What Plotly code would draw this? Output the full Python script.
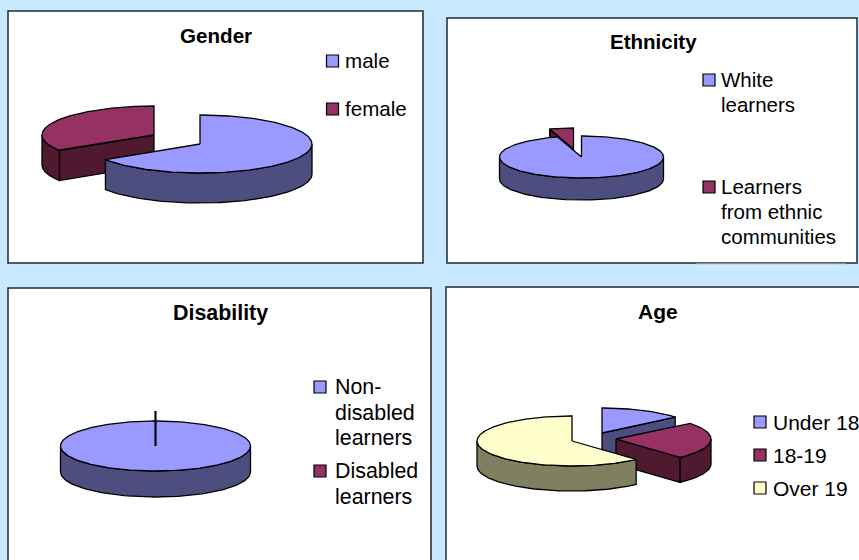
import numpy as np
import plotly.graph_objects as go

# Survey breakdowns shown as four tilted, exploded pies
gender_labels = ["male", "female"]
gender_values = [66, 34]

ethnicity_labels = ["White<br>learners", "Learners<br>from ethnic<br>communities"]
ethnicity_values = [95.3, 4.7]

disability_labels = ["Non-<br>disabled<br>learners", "Disabled<br>learners"]
disability_values = [100, 0]

age_labels = ["Under 18", "18-19", "Over 19"]
age_values = [14, 24.2, 61.8]

# Series colours: (top face, side face)
BLUE = ("#9999FF", "#4D4D80")
PLUM = ("#953163", "#4F1A2F")
CREAM = ("#FFFFCC", "#808060")

BACKGROUND = "#C8E9FF"
BORDER = "#1E2A30"
FONT = "Liberation Sans, Arial, sans-serif"

panels = [
    dict(
        title="Gender", title_pos=(216, 35), box=(8, 11, 423, 263), font_size=20.6,
        labels=gender_labels, values=gender_values, colors=[BLUE, PLUM],
        center=(200, 144), rx=112, ry=29, depth=30,
        offsets=[(0, 0), (-46, -9)],
        legend_x=332.5, text_x=345, legend_y=[61, 109], text_dy=-1, line_step=25,
    ),
    dict(
        title="Ethnicity", title_pos=(653, 41), box=(447, 18, 857, 263), font_size=20.5,
        labels=ethnicity_labels, values=ethnicity_values, colors=[BLUE, PLUM],
        center=(581.5, 157), rx=82, ry=21, depth=22,
        offsets=[(0, 0), (-8, -8)],
        legend_x=709, text_x=721, legend_y=[80, 187], text_dy=-1, line_step=25,
    ),
    dict(
        title="Disability", title_pos=(220.5, 313), box=(8, 288, 431, 575), font_size=21.4,
        labels=disability_labels, values=disability_values, colors=[BLUE, PLUM],
        center=(155.5, 446), rx=95, ry=25, depth=26,
        offsets=[(0, 0), (0, -10)],
        legend_x=320, text_x=334.5, legend_y=[387, 471], text_dy=0, line_step=25.5,
    ),
    dict(
        title="Age", title_pos=(658, 311), box=(446, 287, 875, 575), font_size=21,
        labels=age_labels, values=age_values, colors=[BLUE, PLUM, CREAM],
        center=(572, 441), rx=95, ry=25, depth=25,
        offsets=[(30, -8), (44, -2), (0, 0)],
        legend_x=760, text_x=773, legend_y=[422, 455, 488], text_dy=0, line_step=25,
    ),
]

fig = go.Figure()


def add_face(xs, ys, fill):
    fig.add_trace(go.Scatter(
        x=list(xs), y=list(ys), mode="lines", fill="toself", fillcolor=fill,
        line=dict(color="#000000", width=1.3), hoverinfo="skip", showlegend=False,
    ))


def rim_point(cx, cy, rx, ry, angle):
    rad = np.radians(angle)
    return cx + rx * np.sin(rad), cy - ry * np.cos(rad)


def draw_slice(cx, cy, rx, ry, depth, start, end, colors):
    top, side = colors

    # A cut face is visible when its outward normal points at the viewer
    for angle, normal in ((start, start - 90), (end, end + 90)):
        if np.cos(np.radians(normal)) < -1e-9:
            ex, ey = rim_point(cx, cy, rx, ry, angle)
            add_face([cx, ex, ex, cx, cx],
                     [cy, ey, ey + depth, cy + depth, cy], side)

    # Outer wall: only the front half of the rim can be seen
    lo, hi = max(start, 90), min(end, 270)
    if hi > lo:
        angles = np.linspace(lo, hi, 90)
        wx, wy = rim_point(cx, cy, rx, ry, angles)
        add_face(np.r_[wx, wx[::-1], wx[0]],
                 np.r_[wy, wy[::-1] + depth, wy[0]], side)

    angles = np.linspace(start, end, max(2, int(end - start) + 1))
    ax, ay = rim_point(cx, cy, rx, ry, angles)
    add_face(np.r_[cx, ax, cx], np.r_[cy, ay, cy], top)


shapes = []
annotations = []

for panel in panels:
    x0, y0, x1, y1 = panel["box"]
    size = panel["font_size"]
    cx, cy = panel["center"]
    shapes.append(dict(type="rect", xref="x", yref="y", x0=x0, y0=y0, x1=x1, y1=y1,
                       fillcolor="#FFFFFF", line=dict(color=BORDER, width=1.5),
                       layer="below"))
    annotations.append(dict(
        x=panel["title_pos"][0], y=panel["title_pos"][1], text=f"<b>{panel['title']}</b>",
        xref="x", yref="y", showarrow=False, xanchor="center", yanchor="middle",
        font=dict(family=FONT, size=size, color="#000000"),
    ))

    # Turn the values into clockwise angles measured from twelve o'clock
    values = np.array(panel["values"], dtype=float)
    edges = np.r_[0, np.cumsum(values)] / values.sum() * 360
    slices = list(zip(edges[:-1], edges[1:], panel["colors"], panel["offsets"]))

    # Paint back to front so nearer slices overlap farther ones
    slices.sort(key=lambda s: -np.cos(np.radians((s[0] + s[1]) / 2)))
    for start, end, colors, (dx, dy) in slices:
        draw_slice(cx + dx, cy + dy, panel["rx"], panel["ry"], panel["depth"],
                   start, end, colors)

    # A zero-sized slice collapses into a single heavy stroke from the hub
    for start, end, _, (dx, dy) in slices:
        if end - start < 1e-9:
            ex, ey = rim_point(cx + dx, cy + dy, panel["rx"], panel["ry"], end)
            fig.add_trace(go.Scatter(
                x=[cx, ex], y=[cy, ey], mode="lines",
                line=dict(color="#000000", width=2),
                hoverinfo="skip", showlegend=False,
            ))

    # Legend swatches and wrapped labels
    for label, color, ly in zip(panel["labels"], panel["colors"], panel["legend_y"]):
        fig.add_trace(go.Scatter(
            x=[panel["legend_x"]], y=[ly], mode="markers",
            marker=dict(symbol="square", size=12, color=color[0],
                        line=dict(color="#000000", width=1.2)),
            hoverinfo="skip", showlegend=False,
        ))
        for i, line in enumerate(label.split("<br>")):
            annotations.append(dict(
                x=panel["text_x"], y=ly + panel["text_dy"] + i * panel["line_step"], text=line,
                xref="x", yref="y", showarrow=False, xanchor="left", yanchor="middle",
                xshift=-2, font=dict(family=FONT, size=size, color="#000000"),
            ))

# Pale stretch along the lower edge of the ethnicity frame
shapes.append(dict(type="line", xref="x", yref="y", x0=696, x1=846, y0=264, y1=264,
                   line=dict(color="#C4C8CA", width=1), layer="above"))

axis = dict(visible=False, fixedrange=True)
fig.update_layout(
    width=859, height=560, autosize=False,
    margin=dict(l=0, r=0, t=0, b=0),
    paper_bgcolor=BACKGROUND, plot_bgcolor=BACKGROUND,
    xaxis=dict(range=[0, 859], **axis),
    yaxis=dict(range=[560, 0], **axis),
    shapes=shapes, annotations=annotations, showlegend=False,
)

fig.write_html("out.html", config=dict(displayModeBar=False))
